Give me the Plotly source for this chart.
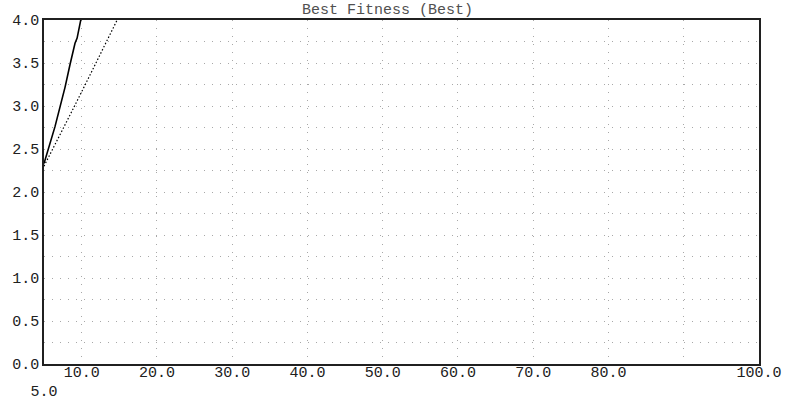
import plotly.graph_objects as go

# Generation axis and fitness series
best_gen = [5.0, 5.7, 6.46, 7.13, 7.8, 8.45, 9.12, 9.4, 9.7, 10.0]
best_fit = [2.33, 2.53, 2.76, 2.99, 3.22, 3.48, 3.73, 3.79, 3.94, 4.05]

avg_gen = [5.0, 7.0, 9.0, 11.0, 13.0, 15.0]
avg_fit = [2.30, 2.64, 2.99, 3.34, 3.69, 4.05]

x_ticks = [5, 10, 20, 30, 40, 50, 60, 70, 80, 90, 100]
x_labels = ["<br>5.0", "10.0", "20.0", "30.0", "40.0", "50.0", "60.0", "70.0", "80.0", "", "100.0"]

y_ticks = [i * 0.25 for i in range(17)]
y_labels = [f"{v:.1f}" if i % 2 == 0 else "" for i, v in enumerate(y_ticks)]

FONT = "Liberation Mono, Courier New, monospace"

fig = go.Figure()
fig.add_trace(go.Scatter(x=best_gen, y=best_fit, mode="lines",
                         line=dict(color="black", width=1.6), showlegend=False))
fig.add_trace(go.Scatter(x=avg_gen, y=avg_fit, mode="lines",
                         line=dict(color="black", width=1.2, dash="1.5px,2px"), showlegend=False))

fig.update_layout(
    width=786, height=404,
    margin=dict(l=44, r=27, t=20, b=40),
    paper_bgcolor="white", plot_bgcolor="white",
    font=dict(family=FONT, size=15, color="#202020"),
    annotations=[dict(text="Best Fitness (Best)", xref="paper", yref="paper",
                      x=0.48, y=1.0, xanchor="center", yanchor="bottom",
                      showarrow=False, yshift=-1,
                      font=dict(family=FONT, size=15, color="#505050"))],
)
fig.update_xaxes(range=[5, 100], tickmode="array", tickvals=x_ticks, ticktext=x_labels,
                 showgrid=True, gridcolor="#a8a8a8", gridwidth=1, griddash="1px,7px",
                 showline=True, linecolor="#202020", linewidth=1.5, mirror=True,
                 ticks="", zeroline=False, tickangle=0, ticklabelstandoff=-7,
                 automargin=False)
fig.update_yaxes(range=[0, 4], tickmode="array", tickvals=y_ticks, ticktext=y_labels,
                 showgrid=True, gridcolor="#a8a8a8", gridwidth=1, griddash="1px,7px",
                 showline=True, linecolor="#202020", linewidth=1.5, mirror=True,
                 ticks="", zeroline=False, ticklabelstandoff=0, automargin=False)

fig.write_html("out.html")
